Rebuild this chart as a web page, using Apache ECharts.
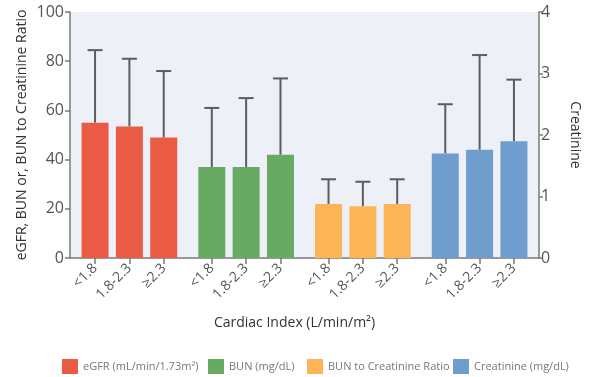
<!DOCTYPE html>
<html>
<head>
<meta charset="utf-8">
<script src="https://cdn.jsdelivr.net/npm/echarts@6/dist/echarts.min.js"></script>
<style>
  html, body { margin: 0; padding: 0; background: #ffffff; }
  #chart { width: 590px; height: 377px; }
</style>
</head>
<body>
<div id="chart"></div>
<script>
// Cardiac index groups shown under every measure
const ciLevels = ['<1.8', '1.8-2.3', '\u22652.3'];

// Measures (legend names)
const measures = ['eGFR (mL/min/1.73m\u00b2)', 'BUN (mg/dL)', 'BUN to Creatinine Ratio', 'Creatinine (mg/dL)'];

// Mean values per cardiac index level
const egfrMean  = [55, 53.5, 49];
const bunMean   = [37, 37, 42];
const ratioMean = [22, 21, 22];
const creatMean = [1.7, 1.76, 1.9];

// Mean + SD (top of the error whisker)
const egfrUpper  = [84.5, 81, 76];
const bunUpper   = [61, 65, 73];
const ratioUpper = [32, 31, 32];
const creatUpper = [2.5, 3.3, 2.9];

// Axis ticks
const leftTicks = [0, 20, 40, 60, 80, 100];
const rightTicks = [0, 1, 2, 3, 4];

const leftAxisTitle = 'eGFR, BUN or, BUN to Creatinine Ratio';

const colors = ['#eb5a45', '#68a963', '#fbb456', '#6f9dcd'];
const means = [egfrMean, bunMean, ratioMean, creatMean];
const uppers = [egfrUpper, bunUpper, ratioUpper, creatUpper];
const onRight = [false, false, false, true];
const legendLeft = [57, 203, 302, 448];

// Bars of one measure sit one unit apart; groups are separated by a wider step
const GROUP_STEP = 3.4;
const xPos = (g, i) => +(g * GROUP_STEP + i).toFixed(2);

const tickValues = [];
const tickText = {};
measures.forEach((m, g) => ciLevels.forEach((lv, i) => {
  const x = xPos(g, i);
  tickValues.push(x);
  tickText[x.toFixed(2)] = lv;
}));

const FONT = '"Open Sans", "Noto Sans", sans-serif';
const AXIS_COLOR = '#7a7a7a';

const series = [];
measures.forEach((name, g) => {
  series.push({
    name: name,
    type: 'bar',
    xAxisIndex: 0,
    yAxisIndex: onRight[g] ? 1 : 0,
    barWidth: 27,
    barGap: '-100%',
    itemStyle: { color: colors[g] },
    data: means[g].map((v, i) => [xPos(g, i), v]),
    z: 2
  });
});
measures.forEach((name, g) => {
  series.push({
    type: 'custom',
    xAxisIndex: 0,
    yAxisIndex: onRight[g] ? 1 : 0,
    z: 1,
    silent: true,
    data: means[g].map((v, i) => [xPos(g, i), v, uppers[g][i]]),
    renderItem: function (params, api) {
      const base = api.coord([api.value(0), api.value(1)]);
      const top = api.coord([api.value(0), api.value(2)]);
      const half = 7.5;
      const style = { stroke: '#5c5c5c', lineWidth: 2, fill: null };
      return {
        type: 'group',
        children: [
          { type: 'line', shape: { x1: base[0], y1: base[1], x2: top[0], y2: top[1] }, style: style },
          { type: 'line', shape: { x1: top[0] - half, y1: top[1], x2: top[0] + half, y2: top[1] }, style: style }
        ]
      };
    }
  });
});

// One legend block per measure so each entry sits at its own spot
const legends = measures.map((name, g) => ({
  data: [name],
  left: legendLeft[g], top: 354,
  itemWidth: 16, itemHeight: 15, itemGap: 0,
  icon: 'rect',
  textStyle: { fontFamily: FONT, fontSize: 11, color: '#777' }
}));

const chart = echarts.init(document.getElementById('chart'), null, { renderer: 'canvas' });
chart.setOption({
  animation: false,
  textStyle: { fontFamily: FONT },
  grid: {
    left: 70, right: 38, top: 12, bottom: 119,
    show: true, backgroundColor: '#eef0f7', borderWidth: 0
  },
  legend: legends,
  // Left axis title, centred on the plot height
  graphic: [{
    type: 'text',
    x: 22, y: 135,
    rotation: Math.PI / 2,
    style: {
      text: leftAxisTitle,
      fontFamily: FONT, fontSize: 14, fill: '#333',
      align: 'center', verticalAlign: 'middle'
    }
  }],
  xAxis: {
    type: 'value',
    min: -0.73, max: 12.93,
    name: 'Cardiac Index (L/min/m\u00b2)',
    nameLocation: 'middle',
    nameGap: 58,
    nameTextStyle: { fontFamily: FONT, fontSize: 14, color: '#333', padding: [0, 20, 0, 0] },
    splitLine: { show: false },
    axisLine: { show: true, onZero: false, lineStyle: { color: AXIS_COLOR, width: 1.5 } },
    axisTick: { show: true, customValues: tickValues, length: 6, lineStyle: { color: AXIS_COLOR, width: 1.5 } },
    axisLabel: {
      customValues: tickValues,
      rotate: 45,
      fontSize: 14,
      color: '#555',
      margin: 8,
      formatter: v => tickText[(+v).toFixed(2)] || ''
    }
  },
  yAxis: [
    {
      type: 'value', min: 0, max: 100, interval: 20,
      splitLine: { show: false },
      axisLine: { show: true, onZero: false, lineStyle: { color: AXIS_COLOR, width: 1.5 } },
      axisTick: { show: true, length: 5, lineStyle: { color: AXIS_COLOR, width: 1.5 } },
      axisLabel: { fontSize: 16, color: '#555', margin: 6, customValues: leftTicks }
    },
    {
      type: 'value', min: 0, max: 4, interval: 1, position: 'right',
      name: 'Creatinine',
      nameLocation: 'middle', nameGap: 29, nameRotate: -90,
      nameTextStyle: { fontFamily: FONT, fontSize: 14, color: '#333' },
      splitLine: { show: false },
      axisLine: { show: true, onZero: false, lineStyle: { color: AXIS_COLOR, width: 1.5 } },
      axisTick: { show: true, length: 4, lineStyle: { color: AXIS_COLOR, width: 1.5 } },
      axisLabel: { fontSize: 16, color: '#555', margin: 2, customValues: rightTicks }
    }
  ],
  series: series
});
</script>
</body>
</html>
